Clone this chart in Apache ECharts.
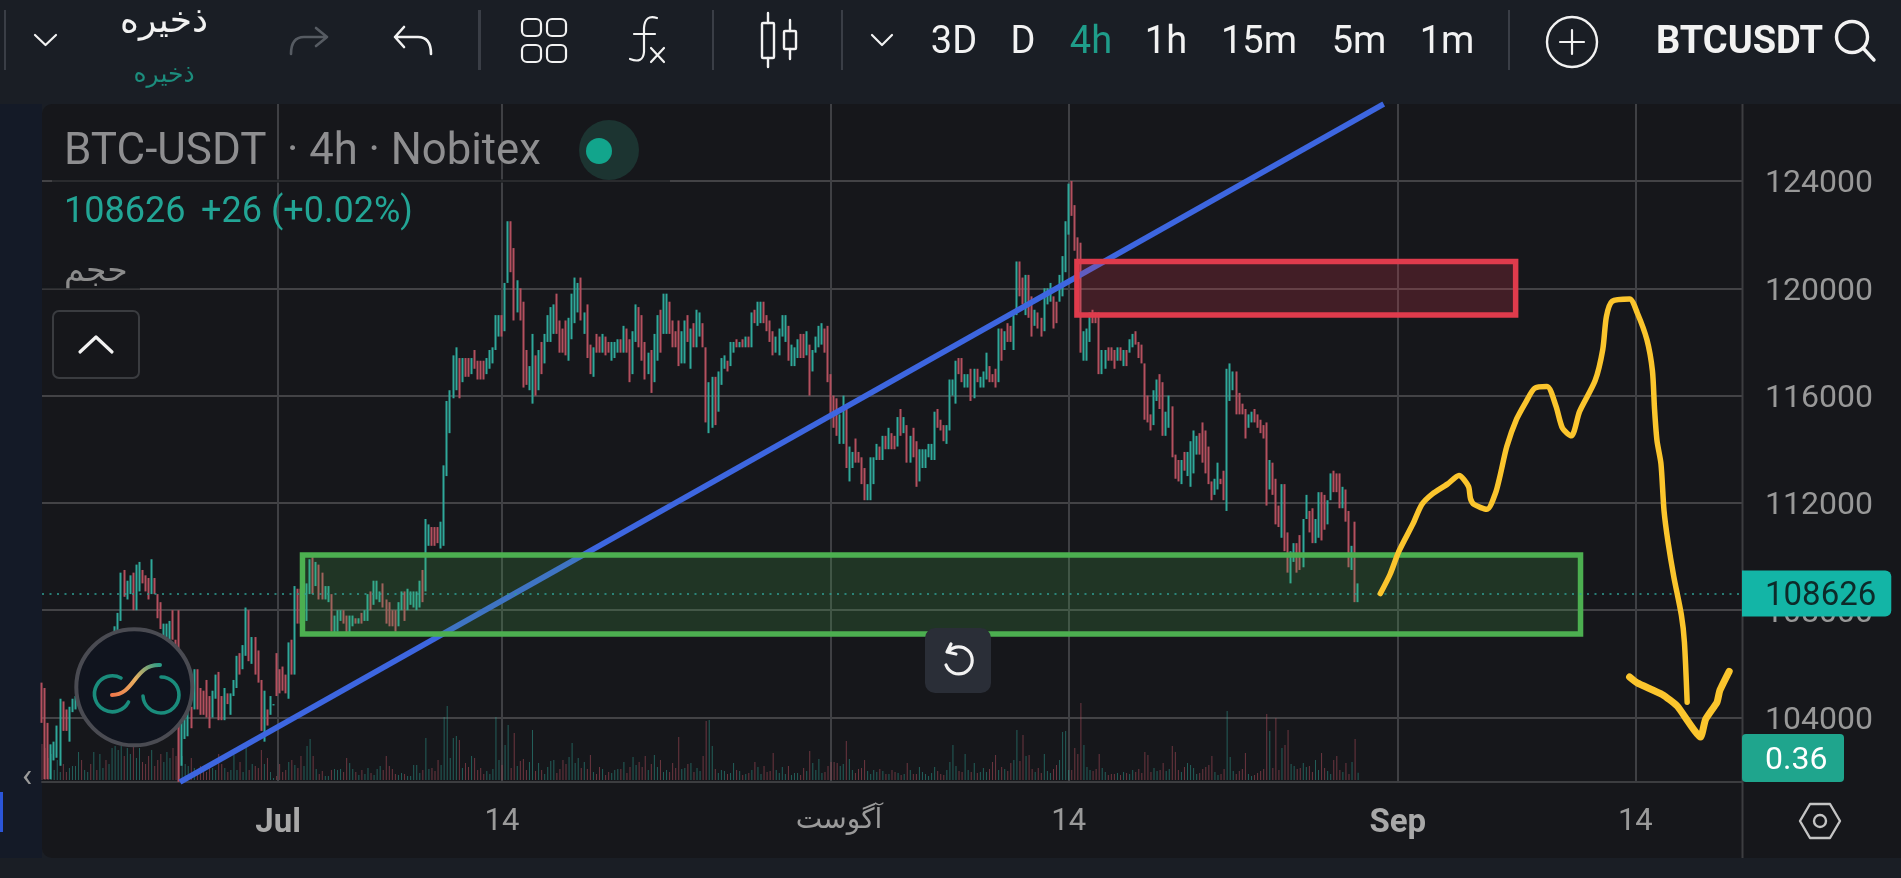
<!DOCTYPE html>
<html><head><meta charset="utf-8"><style>html,body{margin:0;padding:0;background:#1a1e25;overflow:hidden}#c{width:1901px;height:878px}</style>
<script src="https://cdn.jsdelivr.net/npm/echarts@6/dist/echarts.min.js"></script></head><body><div id="c"></div>
<script>
// candle bodies [open, close] in hundreds of USDT
const barsJune=[[1053,1038],[1051,1017],[1038,1017],[1017,1030],[1024,1031],[1025,1037],[1022,1047],[1046,1035],[1043,1035],[1031,1044],[1042,1047],[1043,1048],[1048,1052],[1052,1046],[1046,1054],[1054,1058],[1058,1052],[1052,1060],[1060,1056],[1056,1062],[1062,1066],[1066,1060],[1060,1067],[1067,1070],[1070,1074],[1065,1079],[1076,1094],[1095,1085],[1084,1091],[1086,1093],[1094,1080],[1080,1097],[1087,1098],[1095,1090],[1093,1087],[1092,1084],[1086,1099],[1092,1086],[1086,1077],[1083,1073],[1070,1075],[1070,1075],[1069,1076],[1080,1069],[1069,1060],[1046,1038],[1022,1038],[1032,1042],[1033,1042],[1044,1036],[1043,1058],[1058,1043],[1051,1041],[1050,1041],[1054,1040],[1048,1036],[1040,1050],[1047,1056],[1057,1039],[1048,1039],[1039,1051],[1049,1045],[1041,1049],[1048,1054],[1051,1063],[1064,1056],[1058,1067],[1063,1081],[1080,1061],[1060,1070],[1070,1056],[1065,1053],[1054,1035],[1031,1050],[1043,1037],[1041,1048],[1044.5,1045],[1064,1048],[1058,1049],[1059,1050],[1056,1049],[1047,1068],[1069,1056],[1056,1089]];
const barsEarlyJuly=[[1088,1075],[1088,1075],[1078,1088],[1076,1090],[1086,1099],[1101,1086],[1089,1098],[1097,1084],[1094,1084],[1084,1089],[1083,1089],[1086,1072],[1071,1078],[1072,1080],[1076,1080],[1080,1075],[1078,1071],[1071,1078],[1074,1078],[1077,1075],[1075,1077],[1079,1075],[1076,1080],[1076,1086],[1087,1080],[1082,1091],[1084,1091],[1083,1087],[1090,1081],[1084,1075],[1083,1074],[1080,1074],[1080,1072],[1074,1083],[1080,1087],[1087,1076],[1080,1088],[1082,1087],[1081,1087],[1080,1087],[1081,1091],[1095,1083],[1087,1114],[1104,1112],[1111,1104],[1111,1104],[1111,1105],[1103,1113]];
const barsLateJuly=[[1104,1134],[1130,1158],[1146,1162],[1159,1175],[1162,1178],[1174,1159],[1165,1174],[1174,1167],[1174,1167],[1168,1174],[1177,1170],[1173,1166],[1173,1166],[1173,1166],[1168,1174],[1170,1177],[1172,1178],[1177,1190],[1182,1190],[1190,1182],[1184,1202],[1202,1225],[1225,1206],[1215,1188],[1191,1203],[1200,1188],[1195,1163],[1177,1164],[1162,1171],[1157,1183],[1175,1160],[1162,1177],[1180,1168],[1172,1183],[1180,1190],[1180,1193],[1183,1194],[1198,1183],[1188,1176],[1185,1176],[1188,1175],[1173,1189],[1181,1198],[1187,1204],[1191,1202],[1204,1188],[1183,1191],[1194,1174],[1179,1168],[1167,1178],[1183,1176],[1182,1176],[1176,1183],[1182,1175],[1180,1176],[1173,1180],[1174,1180],[1176,1181],[1181,1176],[1176,1186],[1185,1176],[1181,1165],[1168,1184],[1180,1194],[1193,1178],[1190,1173],[1180,1166],[1168,1176],[1177,1161],[1165,1183],[1173,1190],[1192,1176],[1183,1198],[1183,1198],[1195,1183],[1188,1178],[1184,1178],[1188,1171],[1172,1184],[1172,1188],[1190,1180],[1170,1185],[1187,1178],[1178,1192],[1182,1191],[1187,1178],[1178,1150],[1146,1165],[1148,1167],[1167,1149],[1154,1169],[1164,1174],[1170,1175],[1173,1169],[1171,1180],[1176,1180],[1181,1178],[1178,1180],[1181,1178],[1178,1182],[1182,1178],[1178,1191],[1192,1187],[1186,1195],[1187,1195],[1195,1187],[1190,1184],[1188,1180],[1184,1175],[1176,1182],[1175,1185],[1182,1190],[1180,1190],[1186,1173],[1171,1179],[1171,1178],[1174,1181],[1183,1174],[1183,1174],[1175,1184],[1179,1160],[1169,1177],[1176,1182],[1178,1186],[1179,1187],[1185,1176],[1186,1165],[1168,1152],[1160,1148],[1159,1145],[1142,1153],[1142,1160],[1155,1133],[1128,1141],[1133,1139],[1144,1135],[1139,1135],[1137,1127],[1133,1121],[1121,1127],[1121,1137],[1127,1137],[1136,1142]];
const barsMidAugust=[[1141,1136],[1136,1145],[1145,1140],[1140,1148],[1146,1140],[1145,1140],[1141,1152],[1155,1145],[1146,1152],[1149,1135],[1135,1145],[1148,1137],[1143,1126],[1128,1140],[1133,1140],[1133,1140],[1137,1142],[1136,1142],[1136,1154],[1155,1148],[1151,1147],[1149,1143],[1142,1149],[1147,1166],[1160,1166],[1157,1173],[1174,1168],[1174,1165],[1163,1168],[1163,1168],[1170,1158],[1159,1170],[1170,1165],[1163,1167],[1163,1169],[1166,1176],[1171,1165],[1168,1165],[1170,1163],[1165,1185],[1185,1173],[1177,1184],[1187,1180],[1186,1180],[1177,1190],[1190,1210],[1210,1197],[1204,1194],[1190,1205],[1205,1189],[1197,1182],[1186,1192],[1191,1185],[1189,1182],[1184,1200],[1194,1200],[1195,1202],[1197,1185],[1195,1187],[1195,1205],[1197,1212],[1206,1225],[1220,1239],[1240,1227],[1231,1214],[1219,1203],[1217,1176],[1173,1184],[1173,1185],[1180,1191],[1192,1187],[1191,1187],[1191,1168],[1168,1177],[1170,1177],[1178,1173],[1178,1173],[1177,1170],[1173,1178],[1178,1173],[1171,1177],[1177,1171],[1176,1181],[1178,1183],[1184,1179],[1180,1174],[1179,1172]];
const barsLateAugust=[[1172,1151],[1160,1150],[1153,1147],[1149,1162],[1158,1166],[1168,1155],[1165,1145],[1145,1154],[1148,1160],[1156,1137],[1138,1129],[1136,1128],[1127,1136],[1139,1132],[1130,1139],[1126,1143],[1131,1147],[1138,1145],[1146,1138],[1150,1135],[1147,1131],[1141,1127],[1128,1121],[1123,1129],[1125,1135],[1129,1127],[1132,1121],[1117,1170],[1158,1172],[1162,1169],[1169,1153],[1161,1153],[1157,1153],[1155,1144],[1148,1153],[1150,1154],[1155,1150],[1153,1148],[1151,1146],[1149,1144],[1150,1119],[1125,1136],[1135,1123],[1129,1112],[1119,1111],[1107,1127],[1127,1102],[1109,1094],[1090,1102],[1098,1105],[1105,1094],[1108,1095],[1096,1114],[1114,1123],[1117,1109],[1118,1105],[1105,1114],[1107,1124],[1124,1106],[1123,1110],[1112,1121],[1121,1131],[1132,1124],[1131,1124],[1131,1118],[1118,1126],[1125,1113],[1117,1096],[1095,1104],[1113,1083],[1086,1086.26]];
// wicks long enough to be seen apart from the body: bar number -> [low, high]
const visibleWicks={45:[1016,1080],432:[1083,1090]};
const volumes=[1.8,1.6,1.1,1.3,.5,1,.4,.8,.4,.6,.7,.7,1.4,1,.5,.4,.8,1.4,.5,1.3,.6,1,.8,1.6,1.7,1.5,1.7,1.2,1.6,1.3,1.7,1.1,1.6,.9,.8,1.2,1.5,.7,1,1.3,.9,1.4,1.1,1.6,1.2,2.9,1.2,.8,.7,1.1,.6,.5,.7,.4,.4,.8,.6,.5,1.3,.8,.6,.4,.5,1.25,.5,.9,.4,1.65,.5,.8,.7,.6,1.5,.8,1.1,.4,.1,.2,.8,.4,.5,.9,1,.75,.6,1.2,.7,1.7,2.05,1.2,.55,.3,.45,.2,.2,.5,.55,.5,.55,.4,1.1,.85,.55,.4,.25,.5,.3,.6,.35,.25,.55,.7,.5,1.2,.7,.55,.3,.25,.35,.3,.2,.2,.75,.75,.35,.5,2.1,.55,.6,.45,1,.75,3.15,3.7,1.1,2.1,2.2,2,.6,.85,.65,1.2,1.1,.5,.6,.3,.45,.3,.55,3.15,1,.75,1.75,2.75,.6,2.35,.7,.95,1.05,.5,.9,2.5,.45,.85,.5,.3,.65,.95,1,.35,.55,1,.8,1.15,1.85,.85,1.1,.6,.9,.55,1.25,.4,.3,.65,.55,.25,.4,.35,.5,.55,.55,.9,.35,.65,1.15,.75,.9,.65,1.2,.5,.8,1.25,.65,1,.4,.5,.4,.85,.6,2.15,.55,.6,.8,.85,.4,.6,.45,1.2,2.95,3,1.7,.55,.35,.5,.45,.3,.35,.85,.5,.45,.25,.3,.35,.5,.9,.65,.3,.7,.4,.45,1.35,.5,.35,.65,.3,.7,.25,.35,.35,.25,.6,.45,1.45,.85,.5,1.05,.35,.4,.7,.9,.9,.85,.7,.8,1.95,1.05,.5,.35,.55,.6,1,.45,.3,.5,.4,.55,.45,.3,.3,.5,.4,.35,.25,.3,.85,.5,.3,.3,.65,.4,.3,.2,.35,.65,.45,.3,.25,.5,.9,1.75,.7,.45,.4,1.3,.5,.4,.85,.35,.4,.6,.4,.55,.9,1.25,.5,.65,.55,.45,.85,1,2.5,.95,2.25,1.2,1.25,.55,.4,.6,.35,1.3,.45,.35,.55,.75,1,2.4,2.45,.5,.5,1.6,1.3,3.85,1.75,.65,.5,.45,.55,1.3,.6,.4,.25,.3,.3,.35,.25,.4,.35,.3,.5,.4,.55,.35,1.4,1.25,.4,.6,.45,.5,.85,.45,.55,1.7,1.4,.5,.4,.65,.85,.75,.6,.3,.35,.55,.65,.75,1.2,.4,.25,.3,.55,3.45,1.15,.45,.3,.45,.55,1.35,.3,.2,.25,.35,.45,.55,3.3,2.45,.6,3.1,.5,1.6,1.75,2.5,.8,.7,.55,.6,.85,.65,.7,.4,1,.5,1.35,.6,.45,.3,1,1.2,.5,.4,.85,.3,.9,2.05,.36];
const priceTicks=[104000,108000,112000,116000,120000,124000];
const timeTicks=[77.5,151,259,337,445,523];
const timeLabels=['{b|Jul}','14','{a|آگوست}','14','{b|Sep}','14'];
const lastPrice=108626;
const lastVolumeLabel='0.36';
// drawings on the chart: [bar, price]
const blueTrend=[[45.3,101596],[440.4,126870]];
const greenZone=[85.5,505,107110,110060];
const redZone=[339.7,483.7,119000,121000];
const yellowForecast=[[439.3,108620],[442.5,109340],[445.4,110200],[450,111220],[452.9,111940],[456.3,112330],[461.3,112700],[465.1,113020],[468.2,112620],[468.9,112150],[470.1,111940],[474.3,111760],[477.1,112370],[478.6,113020],[480.8,114100],[484,115120],[487.1,115770],[489.9,116270],[494,116340],[496.9,115620],[499.1,114780],[502,114500],[504.7,115410],[509.8,116560],[512.3,117720],[513.5,118950],[515.4,119520],[521.1,119600],[523.6,119090],[526.8,118080],[528.6,116920],[529.3,115480],[530.1,114320],[531.4,113460],[532.4,111720],[533.7,110560],[535.6,109260],[538.1,107820],[539.1,106810],[540,104570]];
const yellowArrow=[[521.1,105510],[523.6,105290],[531.8,104860],[536.8,104420],[544.4,103270],[546,103920],[549.8,104570],[550.7,105000],[553.8,105720]];
const TEAL='#2fa89a',RED='#b4505f',FONT='Roboto, "DejaVu Sans", sans-serif',ARFONT='"DejaVu Sans", Roboto, sans-serif';

const allBars=[].concat(barsJune,barsEarlyJuly,barsLateJuly,barsMidAugust,barsLateAugust);
const candleData=allBars.map((b,i)=>{const w=visibleWicks[i];return [i,b[0]*100,b[1]*100,(w?w[0]:Math.min(b[0],b[1]))*100,(w?w[1]:Math.max(b[0],b[1]))*100];});
const volumeData=volumes.map((v,i)=>({value:[i,v],itemStyle:{color:allBars[i][1]>=allBars[i][0]?'rgba(47,168,154,.5)':'rgba(180,80,95,.55)'}}));

const W='#f2f2f2';
let pathCount=0;
function T(x,y,text,size,fill,o){o=o||{};return {type:'text',z:o.z||100,x:x,y:y,style:{text:text,fontSize:size,fill:fill,fontFamily:o.fontFamily||FONT,fontWeight:o.fontWeight||'normal',verticalAlign:'middle',align:o.align||'left'}};}
function P(d,stroke,lw,fill,z){const name='iconPath'+(pathCount++);echarts.graphic.registerShape(name,echarts.graphic.extendPath(d,{}));return {type:name,z:z||100,style:{stroke:stroke,lineWidth:lw,fill:fill||'none',lineCap:'round',lineJoin:'round'}};}
function R(x,y,w,h,fill,r,stroke,lw,z){return {type:'rect',z:z||100,shape:{x:x,y:y,width:w,height:h,r:r||0},style:{fill:fill,stroke:stroke||'none',lineWidth:lw||0}};}
function C(cx,cy,r,fill,stroke,lw,z){return {type:'circle',z:z||100,shape:{cx:cx,cy:cy,r:r},style:{fill:fill,stroke:stroke||'none',lineWidth:lw||0}};}
const graphics=[
 R(0,104,42,754,'#141a27',0,null,0,-2),
 R(42,104,1859,754,'#16171b',[10,0,0,10],null,0,-1),
 // toolbar separators
 R(4,10,2,60,'#3a3e46'),R(478,10,3,60,'#3a3e46'),R(712,10,2,60,'#3a3e46'),R(841,10,2,60,'#3a3e46'),R(1508,10,2,60,'#3a3e46'),
 P('M35 35 L45.5 45 L56 35',W,2.2),P('M872 35 L882 45 L892 35',W,2.2),
 T(164,23,'ذخیره',36,W,{align:'center',fontFamily:ARFONT}),
 T(164,75,'ذخیره',25,'#1c8d7d',{align:'center',fontFamily:ARFONT}),
 P('M316 28 L327 37 L316 46 M327 37 H304 Q291 37 291 54','#565b62',2.6),
 P('M404 27 L395 37 L404 47 M395 37 H418 Q431 37 431 54',W,2.6),
 R(522,19,19,17,'none',5,W,2.2),R(547,19,19,17,'none',5,W,2.2),R(522,45,19,17,'none',5,W,2.2),R(547,45,19,17,'none',5,W,2.2),
 P('M657 18 Q645 14 644 28 L644 52 Q643 64 630 59 M634 34 L655 34 M651 48 L664 62 M664 48 L651 62',W,2.2),
 P('M768 13 V23 M768 58 V67 M790 20 V31 M790 49 V59',W,2.4),R(762,23,12,35,'none',1,W,2.4),R(784,31,12,18,'none',1,W,2.4),
 T(954,43,'3D',38,W,{align:'center'}),T(1023,43,'D',38,W,{align:'center'}),T(1091,43,'4h',38,'#1f9d8a',{align:'center'}),T(1166,43,'1h',38,W,{align:'center'}),T(1259,43,'15m',38,W,{align:'center'}),T(1359,43,'5m',38,W,{align:'center'}),T(1447,43,'1m',38,W,{align:'center'}),
 C(1572,42,25,'none',W,2.4),P('M1572 30 V54 M1560 42 H1584',W,2.2),
 T(1656,43,'BTCUSDT',38,W,{fontWeight:'bold'}),
 C(1852,37,15.5,'none',W,3.4),P('M1863 48 L1874 60',W,3.4),
 // header
 T(64,153,'BTC-USDT',44,'#8e8e90'),T(287,153,'· 4h · Nobitex',43.6,'#8e8e90'),
 C(609,150,30,'#1c3431'),C(599,151,13,'#12a58c'),
 T(64,213,'108626',36,'#22a595'),T(201,213,'+26',36,'#22a595'),T(271,213,'(+0.02%)',36,'#22a595'),
 T(64,272,'حجم',33,'#8c8c8c',{fontFamily:ARFONT}),
 R(52,179,618,4,'rgba(22,23,27,.55)',0,null,0,50),R(42,285.5,98,4,'rgba(22,23,27,.55)',0,null,0,50),
 R(53,311,86,67,'#16171b',6,'#3a3c40',2),P('M80 352 L96 337 L112 352',W,3.2),
 // logo
 C(134.3,687.3,58,'#10141e','#4a4b52',4,60),
 P('M121 678 A18 18 0 1 0 128.5 702','#1a8c7c',3.6,'none',61),
 P('M161 677 A18 18 0 1 1 143 696','#1a8c7c',3.6,'none',61),
 (function(){const e=P('M112 695 C135 695 134 664 160 665','#e8b060',4,'none',61);e.style.stroke={type:'linear',global:true,x:112,y:695,x2:160,y2:665,colorStops:[{offset:0,color:'#f0784a'},{offset:.5,color:'#e8b060'},{offset:1,color:'#2a9d88'}]};return e;})(),
 // reset button
 R(925,628,66,65,'#2a2e37',10,null,0,60),
 P('M949 651 A13.5 13.5 0 1 1 946 665 M951 644 L947 652 L956 654','#f2f2f2',3.2,'none',61),
 // right rail
 R(1741.5,104,2,754,'#3c3d40',0,null,0,1),
 R(1742,734,102,48,'#1fa58d',4,null,0,60),
 T(1765,761,lastVolumeLabel,32,'#ffffff',{z:61}),
 P('M1800 821 L1810 804 L1830 804 L1840 821 L1830 838 L1810 838 Z','#c4c4c4',2.4),C(1820,821,6,'none','#c4c4c4',2.4),
 T(27,778,'‹',34,'#9a9a9a',{align:'center'}),R(0,792,3,40,'#2b55d8',0,null,0,1),
];

const ch=echarts.init(document.getElementById('c'),null,{renderer:'canvas'});
ch.setOption({
 animation:false,backgroundColor:'#1a1e25',
 grid:[{left:42,right:159,top:104,bottom:96},{left:42,right:159,top:640,bottom:96}],
 xAxis:[
  {type:'value',gridIndex:0,min:0,max:558,
   axisLine:{show:true,lineStyle:{color:'#3c3d40',width:2}},
   axisTick:{show:false,customValues:timeTicks},
   splitLine:{show:true,lineStyle:{color:'#3f4044',width:2}},
   axisLabel:{customValues:timeTicks,margin:25,fontSize:31,color:'#9a9a9a',fontFamily:FONT,
     formatter:v=>timeLabels[timeTicks.indexOf(v)],
     rich:{b:{fontSize:33,fontWeight:'bold',color:'#a8a8a8',fontFamily:FONT},
           a:{fontSize:28,color:'#9a9a9a',fontFamily:ARFONT,padding:[0,0,0,16]}}}},
  {type:'value',gridIndex:1,min:0,max:558,show:false,splitLine:{show:false}}
 ],
 yAxis:[
  {type:'value',gridIndex:0,position:'right',min:101596,max:126870,
   axisLine:{show:false},axisTick:{show:false,customValues:priceTicks},
   splitLine:{show:true,lineStyle:{color:'#434346',width:2}},
   axisLabel:{customValues:priceTicks,margin:23,formatter:v=>'{v|'+v+'}',
     rich:{v:{fontSize:32,color:'#989898',fontFamily:FONT,padding:[7,0,0,0]}}}},
  {type:'value',gridIndex:1,min:-.1,max:7,show:false,splitLine:{show:false}}
 ],
 series:[
  {type:'bar',name:'volume',xAxisIndex:1,yAxisIndex:1,data:volumeData,barWidth:1,z:1,large:false},
  {type:'candlestick',name:'BTCUSDT',xAxisIndex:0,yAxisIndex:0,data:candleData,barWidth:1,z:2,progressive:0,
   encode:{x:0,y:[1,2,3,4]},
   itemStyle:{color:TEAL,color0:RED,borderColor:TEAL,borderColor0:RED,borderWidth:2},
   markLine:{silent:true,symbol:'none',animation:false,
     data:[{yAxis:lastPrice}],
     lineStyle:{color:'#2f9e93',type:[2,5.5],width:1.6},
     label:{show:true,position:'end',distance:0,formatter:'{v|'+lastPrice+'}',backgroundColor:'#13b5a6',padding:[3,15,3,23],borderRadius:[0,6,6,0],
       rich:{v:{color:'#0d2a29',fontSize:33,fontFamily:FONT,padding:[7,0,0,0]}}}}},
  {type:'line',name:'trend',data:blueTrend,showSymbol:false,z:3,clip:true,lineStyle:{color:'#3d66e0',width:5.5}},
  {type:'custom',name:'zones',z:4,clip:false,data:[greenZone,redZone],
   renderItem:(p,api)=>{
     const a=api.coord([api.value(0),api.value(3)]),b=api.coord([api.value(1),api.value(2)]);
     const green=p.dataIndex===0;
     return {type:'rect',shape:{x:a[0],y:a[1],width:b[0]-a[0],height:b[1]-a[1]},
       style:{fill:green?'rgba(76,175,80,.2)':'rgba(224,60,76,.22)',stroke:green?'#4caf50':'#df3b4c',lineWidth:5.5}};
   }},
  {type:'line',name:'forecast',data:yellowForecast,showSymbol:false,z:5,clip:false,smooth:.25,lineStyle:{color:'#fbc52d',width:5.5,cap:'round',join:'round'}},
  {type:'line',name:'arrow',data:yellowArrow,showSymbol:false,z:5,clip:false,smooth:.15,lineStyle:{color:'#fbc52d',width:7,cap:'round',join:'round'}}
 ],
 graphic:{elements:graphics}
});
</script></body></html>
